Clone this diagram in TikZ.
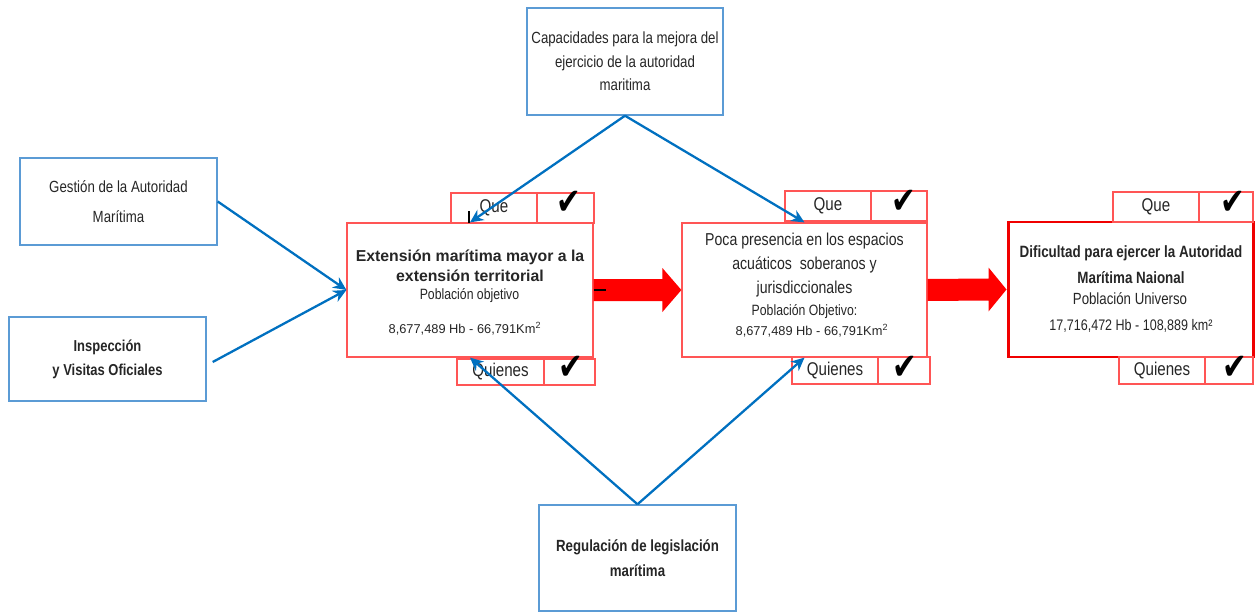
\documentclass[tikz,border=0pt]{standalone}
\usepackage{fontspec}
\setmainfont{Liberation Sans}
\newfontfamily\narf{Liberation Sans}[FakeStretch=0.82]
\newfontfamily\chkf{DejaVu Sans}
\usetikzlibrary{arrows.meta,calc}
\definecolor{bbox}{RGB}{91,155,213}
\definecolor{barr}{RGB}{0,112,192}
\definecolor{rbox}{RGB}{255,85,85}
\definecolor{rstrong}{RGB}{240,0,0}
\definecolor{txt}{RGB}{38,38,38}
\newdimen\pxu
\pxu=0.02cm
\begin{document}
\begin{tikzpicture}[x=0.02cm,y=-0.02cm,
  bluebox/.style={draw=bbox, line width=0.8pt, fill=white, align=center, text=txt, inner sep=0pt},
  redbox/.style={draw=rbox, line width=0.7pt, fill=white, inner sep=0pt},
  strongbox/.style={draw=rstrong, line width=1.7pt, fill=white, inner sep=0pt},
  cell/.style={draw=rbox, line width=0.7pt, fill=white, inner sep=0pt, text=txt,
    font=\narf\fontsize{10.5}{12}\selectfont},
  tick/.style={inner sep=0pt, font=\chkf\fontsize{21}{23}\selectfont, xscale=0.8},
  ltxt/.style={inner sep=0pt, text=txt},
  conn/.style={draw=barr, line width=1.3pt, -{Stealth[length=7.5pt,width=7pt]}},
  blockarrow/.style={fill=red, draw=none},
  smallmark/.style={draw=black, line width=0.6pt}
]
\useasboundingbox (0,0) rectangle (1255,612);

% blue boxes
\node[bluebox, minimum width=196\pxu, minimum height=107\pxu,
  font=\narf\fontsize{9.2}{13.3}\selectfont] (cap) at (625,61.5)
  {Capacidades para la mejora del\\ejercicio de la autoridad\\maritima};
\node[bluebox, minimum width=197\pxu, minimum height=87\pxu,
  font=\narf\fontsize{9.2}{17}\selectfont] (ges) at (118.5,201.5)
  {Gestión de la Autoridad\\Marítima};
\node[bluebox, minimum width=197\pxu, minimum height=84\pxu,
  font=\narf\bfseries\fontsize{9}{13.6}\selectfont] (ins) at (107.5,359)
  {Inspección\\y Visitas Oficiales};
\node[bluebox, minimum width=197\pxu, minimum height=106\pxu,
  font=\narf\bfseries\fontsize{9.2}{14.2}\selectfont] (reg) at (637.5,558)
  {Regulación de legislación\\marítima};

% red boxes
\node[redbox, minimum width=246\pxu, minimum height=134\pxu] (b1) at (470,290) {};
\node[redbox, minimum width=245\pxu, minimum height=134\pxu] (b2) at (804.5,290) {};
\node[strongbox, minimum width=245\pxu, minimum height=135\pxu] (b3) at (1130.5,289.5) {};

% Que / Quienes cells
\node[cell, minimum width=86\pxu, minimum height=30\pxu] (q1) at (494,208) {Que};
\node[cell, minimum width=57\pxu, minimum height=30\pxu] (q1c) at (565.5,208) {};
\node[cell, minimum width=87\pxu, minimum height=26\pxu] (w1) at (500.5,372) {Quienes};
\node[cell, minimum width=51\pxu, minimum height=26\pxu] (w1c) at (569.5,372) {};
\node[cell, minimum width=86\pxu, minimum height=30\pxu] (q2) at (828,206) {Que};
\node[cell, minimum width=56\pxu, minimum height=30\pxu] (q2c) at (899,206) {};
\node[cell, minimum width=86\pxu, minimum height=27\pxu] (w2) at (835,370.5) {Quienes};
\node[cell, minimum width=52\pxu, minimum height=27\pxu] (w2c) at (904,370.5) {};
\node[cell, minimum width=86\pxu, minimum height=30\pxu] (q3) at (1156,207) {Que};
\node[cell, minimum width=54\pxu, minimum height=30\pxu] (q3c) at (1226,207) {};
\node[cell, minimum width=86\pxu, minimum height=27\pxu] (w3) at (1162,370.5) {Quienes};
\node[cell, minimum width=48\pxu, minimum height=27\pxu] (w3c) at (1229,370.5) {};

% check marks
\node[tick] (k1) at (569,203) {✔};
\node[tick] (k2) at (571,368) {✔};
\node[tick] (k3) at (904,202) {✔};
\node[tick] (k4) at (905,368) {✔};
\node[tick] (k5) at (1233,203) {✔};
\node[tick] (k6) at (1235,368) {✔};

% texts of box 1
\node[ltxt, align=center, font=\bfseries\fontsize{9}{11.3}\selectfont] (b1t) at (470,265.5)
  {Extensión marítima mayor a la\\extensión territorial};
\node[ltxt, font=\narf\fontsize{8.5}{10}\selectfont] (b1p) at (469.5,296) {Población objetivo};
\node[ltxt, font=\fontsize{7.3}{9}\selectfont] (b1n) at (465,329) {8,677,489 Hb - 66,791Km\textsuperscript{2}};

% texts of box 2
\node[ltxt, align=center, font=\narf\fontsize{9.8}{13.9}\selectfont] (b2t) at (804.5,265)
  {Poca presencia en los espacios\\acuáticos\ \ soberanos y\\jurisdiccionales};
\node[ltxt, font=\narf\fontsize{8.5}{10}\selectfont] (b2p) at (804.5,312) {Población Objetivo:};
\node[ltxt, font=\fontsize{7.3}{9}\selectfont] (b2n) at (812,331) {8,677,489 Hb - 66,791Km\textsuperscript{2}};

% texts of box 3
\node[ltxt, font=\narf\bfseries\fontsize{9.3}{11}\selectfont] (b3a) at (1131,253) {Dificultad para ejercer la Autoridad};
\node[ltxt, font=\narf\bfseries\fontsize{9.3}{11}\selectfont] (b3b) at (1131,278) {Marítima Naional};
\node[ltxt, font=\narf\fontsize{9.2}{11}\selectfont] (b3c) at (1130,299) {Población Universo};
\node[ltxt, font=\narf\fontsize{8.7}{10}\selectfont] (b3d) at (1131,326) {17,716,472 Hb - 108,889 km²};

% red block arrows
\fill[blockarrow] ($(b1.east)+(0,-11)$) -- ($(b2.west)+(-19,-11)$) -- ($(b2.west)+(-19,-22)$)
  -- (b2.west) -- ($(b2.west)+(-19,22)$) -- ($(b2.west)+(-19,11)$) -- ($(b1.east)+(0,11)$) -- cycle;
\fill[blockarrow] ($(b2.east)+(0,-11)$) -- ($(b3.west)+(-18,-11)$) -- ($(b3.west)+(-18,-22)$)
  -- (b3.west) -- ($(b3.west)+(-18,22)$) -- ($(b3.west)+(-18,11)$) -- ($(b2.east)+(0,11)$) -- cycle;

% small black marks
\coordinate (m1) at ($(b1.east)+(12,0)$);
\draw[smallmark] (b1.east) -- (m1);
\coordinate (m2a) at (469,211);
\coordinate (m2b) at (469,223);
\draw[smallmark] (m2a) -- (m2b);

% blue connectors
\draw[conn] (cap.south) -- (b1.north);
\draw[conn] (cap.south) -- (b2.north);
\draw[conn] (ges.east) -- (b1.west);
\draw[conn] ($(ins.east)+(6,3)$) -- (b1.west);
\draw[conn] (reg.north) -- (b1.south);
\draw[conn] (reg.north) -- (b2.south);
\end{tikzpicture}
\end{document}
